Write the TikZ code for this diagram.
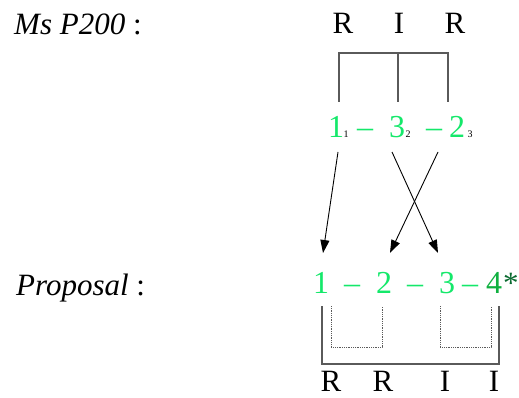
\documentclass[tikz,border=0pt]{standalone}
\usepackage{fontspec}
\setmainfont{Liberation Serif}
\usetikzlibrary{arrows.meta}
\definecolor{lgreen}{HTML}{14E86A}
\definecolor{dgreen}{HTML}{10B040}
\definecolor{sgreen}{HTML}{0A6A30}
\definecolor{lgray}{HTML}{5A5A5A}
\tikzset{
  lab/.style={anchor=base, inner sep=0pt, font=\fontsize{31}{31}\selectfont},
  num/.style={lab, text=lgreen, font=\fontsize{32}{32}\selectfont},
  sub/.style={anchor=base, inner sep=0pt, font=\fontsize{10}{10}\selectfont},
  brk/.style={draw=lgray, line width=1.1pt},
  dotb/.style={draw=lgray, line width=0.8pt, densely dotted},
  arr/.style={draw=black, line width=0.9pt, -{Triangle[length=13pt,width=9pt]}}
}
\begin{document}
\begin{tikzpicture}[x=1pt,y=-1pt]
\useasboundingbox (0,0) rectangle (519,398);
% labels
\node[lab, anchor=base west] (ms) at (14,35) {\textit{Ms P200} :};
\node[lab, anchor=base west] (prop) at (16,295) {\textit{Proposal} :};
% top letters
\node[lab] (tR1) at (343,34) {R};
\node[lab] (tI) at (399,34) {I};
\node[lab] (tR2) at (455,34) {R};
% top bracket
\coordinate (ta) at (339,53);
\coordinate (tb) at (398,53);
\coordinate (tc) at (448,53);
\coordinate (ta2) at (339,102);
\coordinate (tb2) at (398,102);
\coordinate (tc2) at (448,102);
\draw[brk] (ta2) -- (ta) -- (tc) -- (tc2);
\draw[brk] (tb) -- (tb2);
% top green numbers
\node[num] (n1) at (336,138) {1};
\node[sub] (s1) at (346,138) {1};
\node[num] (d1) at (365,138) {\textendash};
\node[num] (n3) at (397,138) {3};
\node[sub] (s2) at (408,138) {2};
\node[num] (d2) at (434,138) {\textendash};
\node[num] (n2) at (457,138) {2};
\node[sub] (s3) at (470,138) {3};
% proposal numbers
\node[num] (p1) at (321,293) {1};
\node[num] (pd1) at (352,293) {\textendash};
\node[num] (p2) at (384,293) {2};
\node[num] (pd2) at (415,293) {\textendash};
\node[num] (p3) at (447,293) {3};
\node[num] (pd3) at (470,293) {\textendash};
\node[lab, text=dgreen, font=\fontsize{32}{32}\selectfont] (p4) at (494,293) {4};
\node[lab, text=sgreen, anchor=base west] (star) at (503,293) {*};
% arrows
\coordinate (a1s) at (338,152);
\coordinate (a1e) at (323,253);
\coordinate (a3s) at (392,152);
\coordinate (a3e) at (438,253);
\coordinate (a2s) at (438,152);
\coordinate (a2e) at (390,253);
\draw[arr] (a1s) -- (a1e);
\draw[arr] (a3s) -- (a3e);
\draw[arr] (a2s) -- (a2e);
% lower bracket
\coordinate (la) at (322,306);
\coordinate (la2) at (322,364);
\coordinate (lb2) at (499,364);
\coordinate (lb) at (499,306);
\draw[brk] (la) -- (la2) -- (lb2) -- (lb);
\coordinate (da) at (331,306);
\coordinate (da2) at (331,347);
\coordinate (db2) at (382,347);
\coordinate (db) at (382,306);
\draw[dotb] (da) -- (da2) -- (db2) -- (db);
\coordinate (dc) at (440,306);
\coordinate (dc2) at (440,347);
\coordinate (dd2) at (491,347);
\coordinate (dd) at (491,306);
\draw[dotb] (dc) -- (dc2) -- (dd2) -- (dd);
% bottom letters
\node[lab] (bR1) at (331,391) {R};
\node[lab] (bR2) at (383,391) {R};
\node[lab] (bI1) at (445,391) {I};
\node[lab] (bI2) at (494,391) {I};
\end{tikzpicture}
\end{document}
